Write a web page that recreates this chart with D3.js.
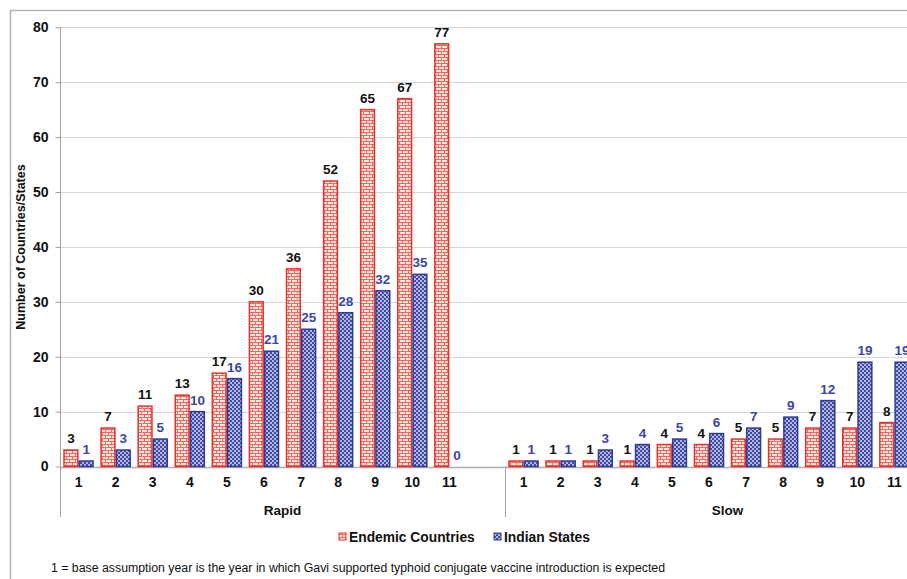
<!DOCTYPE html>
<html>
<head>
<meta charset="utf-8">
<script src="https://cdn.jsdelivr.net/npm/d3@7"></script>
<style>
  html, body { margin: 0; padding: 0; background: #fff; }
  svg { display: block; font-family: Arial, "Liberation Sans", sans-serif; }
</style>
</head>
<body>
<svg id="chart" width="907" height="579"></svg>
<script>
// Scenario groups and year categories (an empty slot closes each group)
const groups = ["Rapid", "Slow"];
const years = ["1", "2", "3", "4", "5", "6", "7", "8", "9", "10", "11", ""];
const seriesNames = ["Endemic Countries", "Indian States"];

// Cumulative number of countries / states by year
const rapidEndemic = [3, 7, 11, 13, 17, 30, 36, 52, 65, 67, 77];
const rapidIndian  = [1, 3, 5, 10, 16, 21, 25, 28, 32, 35, 0];
const slowEndemic  = [1, 1, 1, 1, 4, 4, 5, 5, 7, 7, 8];
const slowIndian   = [1, 1, 3, 4, 5, 6, 7, 9, 12, 19, 19];

const yTicks = [0, 10, 20, 30, 40, 50, 60, 70, 80];
const footnote = "1 = base assumption year is the year in which Gavi supported typhoid conjugate vaccine introduction is expected";

const seriesValues = {
  Rapid: [rapidEndemic, rapidIndian],
  Slow: [slowEndemic, slowIndian]
};

const svg = d3.select("#chart");

const plot = { left: 60, right: 950, top: 27.3, bottom: 466.5 };

// Outer frame of the figure
svg.append("path")
  .attr("d", `M10.5,579 V10.5 H907`)
  .attr("fill", "none")
  .attr("stroke", "#b4b4b4")
  .attr("stroke-width", 1.5);

// Patterns: red brick and blue dotted
const defs = svg.append("defs");
const brick = defs.append("pattern")
  .attr("id", "brick").attr("patternUnits", "userSpaceOnUse")
  .attr("width", 6).attr("height", 6);
brick.append("rect").attr("width", 6).attr("height", 6).attr("fill", "#fde6e0");
brick.append("path")
  .attr("d", "M0,0.5 H6 M0,3.5 H6 M0.5,0.5 V3.5 M3.5,3.5 V6.5")
  .attr("stroke", "#ee6a5e").attr("stroke-width", 1).attr("fill", "none");

const dots = defs.append("pattern")
  .attr("id", "dots").attr("patternUnits", "userSpaceOnUse")
  .attr("width", 4).attr("height", 4);
dots.append("rect").attr("width", 4).attr("height", 4).attr("fill", "#3f4aa6");
dots.append("circle").attr("cx", 1).attr("cy", 1).attr("r", 0.95).attr("fill", "#e6e8f6");
dots.append("circle").attr("cx", 3).attr("cy", 3).attr("r", 0.95).attr("fill", "#e6e8f6");

const fills = ["url(#brick)", "url(#dots)"];
const strokes = ["#e8302c", "#2f3a92"];
const labelColors = ["#111", "#3b45a8"];

// Scales
const slotKeys = [];
groups.forEach(g => years.forEach((y, i) => slotKeys.push(g + "|" + i)));

const x0 = d3.scaleBand()
  .domain(slotKeys)
  .range([plot.left, plot.right])
  .paddingInner(0.175)
  .paddingOuter(0.0875);

const x1 = d3.scaleBand()
  .domain(seriesNames)
  .range([0, x0.bandwidth()])
  .padding(0);

const y = d3.scaleLinear().domain([0, 80]).range([plot.bottom, plot.top]);

// Gridlines
svg.append("g")
  .selectAll("line")
  .data(yTicks)
  .join("line")
  .attr("x1", plot.left).attr("x2", 907)
  .attr("y1", d => Math.round(y(d)) + 0.5).attr("y2", d => Math.round(y(d)) + 0.5)
  .attr("stroke", d => d === 0 ? "#b0b0b0" : "#d6d6d6")
  .attr("stroke-width", d => d === 0 ? 1.5 : 1);

// Y axis
const yAxis = svg.append("g")
  .attr("transform", `translate(${plot.left + 0.5},0)`)
  .call(d3.axisLeft(y).tickValues(yTicks).tickSize(5).tickPadding(7));
yAxis.select(".domain").remove();
yAxis.selectAll(".tick line").attr("stroke", "#a0a0a0");
yAxis.selectAll(".tick text")
  .attr("font-size", 14).attr("font-weight", "bold").attr("fill", "#111")
  .attr("font-family", "Arial, 'Liberation Sans', sans-serif");

svg.append("line")
  .attr("x1", plot.left + 0.5).attr("x2", plot.left + 0.5)
  .attr("y1", plot.top).attr("y2", 517)
  .attr("stroke", "#a0a0a0").attr("stroke-width", 1);

// Y axis title
svg.append("text")
  .attr("transform", `translate(25,247) rotate(-90)`)
  .attr("text-anchor", "middle")
  .attr("font-size", 12.5).attr("font-weight", "bold").attr("fill", "#111")
  .text("Number of Countries/States");

// Group separators and group labels
groups.forEach((g, gi) => {
  const first = x0(g + "|0") - (x0.step() - x0.bandwidth()) / 2;
  const last = first + x0.step() * years.length;
  if (gi > 0) {
    svg.append("line")
      .attr("x1", Math.round(first) + 0.5).attr("x2", Math.round(first) + 0.5)
      .attr("y1", plot.bottom).attr("y2", 517)
      .attr("stroke", "#a0a0a0").attr("stroke-width", 1);
  }
  svg.append("text")
    .attr("x", (first + last) / 2).attr("y", 515)
    .attr("text-anchor", "middle")
    .attr("font-size", 13.5).attr("font-weight", "bold").attr("fill", "#111")
    .text(g);
});

// Category labels
svg.append("g")
  .selectAll("text")
  .data(slotKeys)
  .join("text")
  .attr("x", d => x0(d) + x0.bandwidth() / 2)
  .attr("y", 487)
  .attr("text-anchor", "middle")
  .attr("font-size", 14).attr("font-weight", "bold").attr("fill", "#111")
  .text(d => years[+d.split("|")[1]]);

// Bars and value labels
const barData = [];
groups.forEach(g => {
  seriesValues[g].forEach((vals, si) => {
    vals.forEach((v, i) => barData.push({ key: g + "|" + i, series: si, value: v }));
  });
});

const barG = svg.append("g");
barG.selectAll("rect")
  .data(barData)
  .join("rect")
  .attr("x", d => x0(d.key) + x1(seriesNames[d.series]) + 0.75)
  .attr("width", x1.bandwidth() - 1.5)
  .attr("y", d => y(d.value))
  .attr("height", d => y(0) - y(d.value))
  .attr("fill", d => fills[d.series])
  .attr("stroke", d => strokes[d.series])
  .attr("stroke-width", 1.5);

barG.selectAll("text")
  .data(barData)
  .join("text")
  .attr("x", d => x0(d.key) + x1(seriesNames[d.series]) + x1.bandwidth() / 2)
  .attr("y", d => y(d.value) - 7)
  .attr("text-anchor", "middle")
  .attr("font-size", 13.5).attr("font-weight", "bold")
  .attr("fill", d => labelColors[d.series])
  .text(d => d.value);

// Legend
const legendItems = [
  { name: seriesNames[0], x: 339 },
  { name: seriesNames[1], x: 494 }
];
const lg = svg.append("g");
legendItems.forEach((it, i) => {
  lg.append("rect")
    .attr("x", it.x).attr("y", 533).attr("width", 7).attr("height", 7)
    .attr("fill", fills[i]).attr("stroke", strokes[i]).attr("stroke-width", 1);
  lg.append("text")
    .attr("x", it.x + 10).attr("y", 542)
    .attr("font-size", 13.8).attr("font-weight", "bold").attr("fill", "#111")
    .text(it.name);
});

// Footnote
svg.append("text")
  .attr("x", 51).attr("y", 572)
  .attr("font-size", 12)
  .attr("fill", "#111")
  .attr("textLength", 614)
  .attr("lengthAdjust", "spacingAndGlyphs")
  .text(footnote);
</script>
</body>
</html>
